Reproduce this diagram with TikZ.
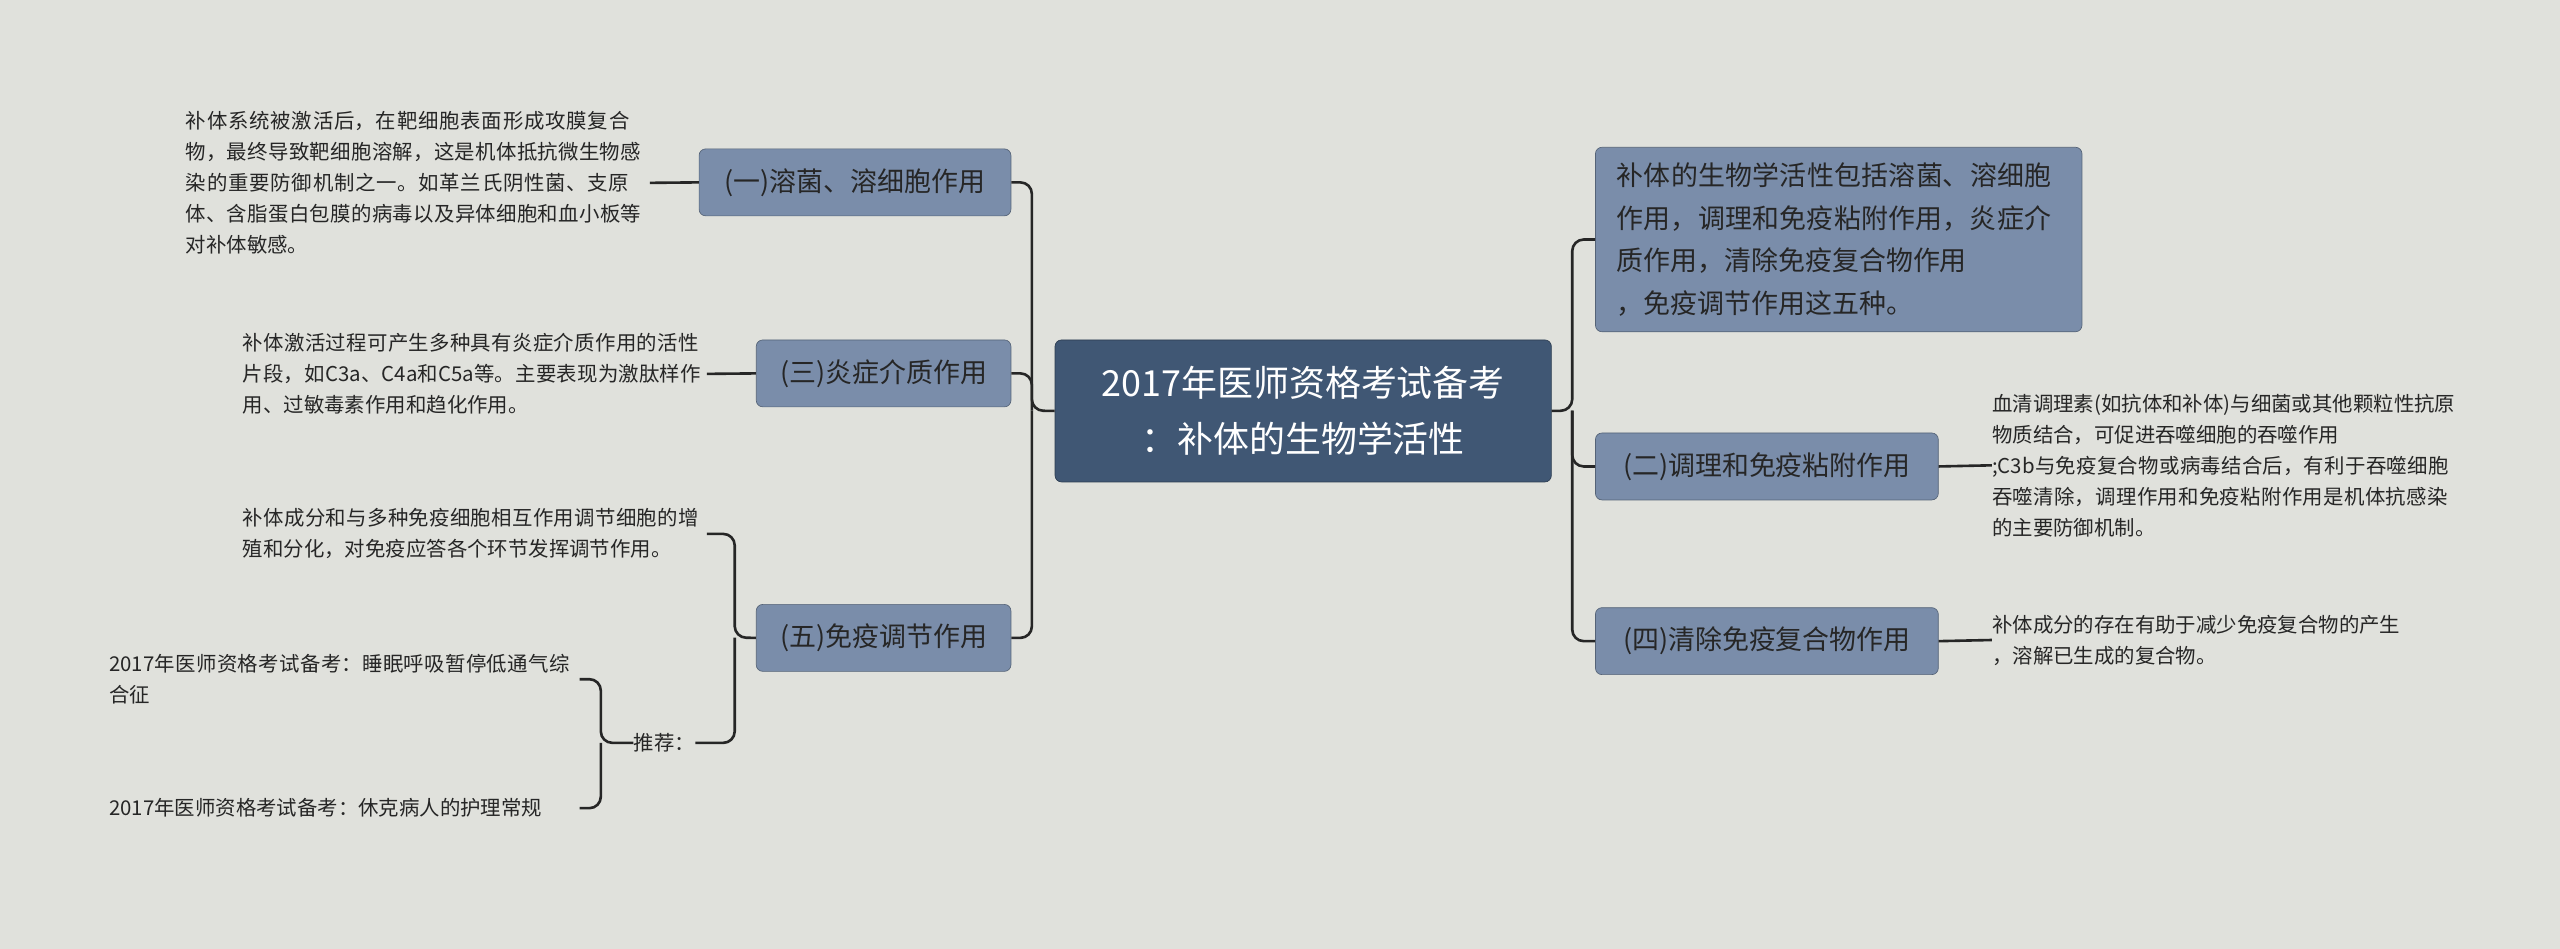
\documentclass[tikz,border=0pt]{standalone}
\usepackage{fontspec}
\setmainfont{Noto Sans CJK SC}
\XeTeXlinebreaklocale "zh"
\XeTeXlinebreakskip=0pt plus 1pt
\begin{document}
\begin{tikzpicture}[x=1pt,y=-1pt,
 box/.style={draw=black!30!bluebox,fill=bluebox,rounded corners=4pt,inner sep=0pt,font=\fontsize{16.5}{26}\selectfont,text=black!85,anchor=north west},
 desc/.style={font=\fontsize{12.5}{19}\selectfont,text=black!85,align=left,inner sep=0pt},
 ln/.style={draw=black!85,line width=1.6pt,rounded corners=7pt}]
\definecolor{bluebox}{HTML}{7A8DAA}
\definecolor{bg}{HTML}{E0E1DC}
\definecolor{center}{HTML}{405774}
\fill[bg] (0,0) rectangle (1568,581);
\useasboundingbox (0,0) rectangle (1568,581);
\node[fill=center,draw=center!70!black,rounded corners=4pt,minimum width=304pt,minimum height=87pt,anchor=north west,text=white,align=center,font=\fontsize{22}{34}\selectfont,inner sep=0pt] (c) at (646,208) {2017年医师资格考试备考\\：补体的生物学活性};
\node[box,minimum width=298pt,minimum height=113pt,text width=272pt,align=left] (r0) at (977,90) {补体的生物学活性包括溶菌、溶细胞作用，调理和免疫粘附作用，炎症介质作用，清除免疫复合物作用\\，免疫调节作用这五种。};
\node[box,minimum width=210pt,minimum height=41pt] (r2) at (977,265) {(二)调理和免疫粘附作用};
\node[box,minimum width=210pt,minimum height=41pt] (r4) at (977,372) {(四)清除免疫复合物作用};
\node[box,minimum width=191pt,minimum height=41pt] (l1) at (428,91) {(一)溶菌、溶细胞作用};
\node[box,minimum width=156pt,minimum height=41pt] (l3) at (463,208) {(三)炎症介质作用};
\node[box,minimum width=156pt,minimum height=41pt] (l5) at (463,370) {(五)免疫调节作用};
\node[desc,anchor=west,text width=284pt] (t2) at (1220,285) {血清调理素(如抗体和补体)与细菌或其他颗粒性抗原物质结合，可促进吞噬细胞的吞噬作用\\;C3b与免疫复合物或病毒结合后，有利于吞噬细胞吞噬清除，调理作用和免疫粘附作用是机体抗感染的主要防御机制。};
\node[desc,anchor=west,text width=284pt] (t4) at (1220,392) {补体成分的存在有助于减少免疫复合物的产生\\，溶解已生成的复合物。};
\node[desc,anchor=east,text width=284pt] (t1) at (398,112) {补体系统被激活后，在靶细胞表面形成攻膜复合物，最终导致靶细胞溶解，这是机体抵抗微生物感染的重要防御机制之一。如革兰氏阴性菌、支原体、含脂蛋白包膜的病毒以及异体细胞和血小板等对补体敏感。};
\node[desc,anchor=east,text width=284pt] (t3) at (433,229) {补体激活过程可产生多种具有炎症介质作用的活性片段，如C3a、C4a和C5a等。主要表现为激肽样作用、过敏毒素作用和趋化作用。};
\node[desc,anchor=east,text width=284pt] (t5) at (433,327) {补体成分和与多种免疫细胞相互作用调节细胞的增殖和分化，对免疫应答各个环节发挥调节作用。};
\node[desc,anchor=west] (tj) at (388,455) {推荐：};
\node[desc,anchor=east,text width=288pt] (ta) at (355,416) {2017年医师资格考试备考：睡眠呼吸暂停低通气综合征};
\node[desc,anchor=east,text width=288pt] (tb) at (355,495) {2017年医师资格考试备考：休克病人的护理常规};
\draw[ln] (c.west) -- (632,251.5) |- (l1.east);
\draw[ln] (632,251.5) |- (l3.east);
\draw[ln] (632,251.5) |- (l5.east);
\draw[ln] (c.east) -- (963,251.5) |- (r0.west);
\draw[ln] (963,251.5) |- (r2.west);
\draw[ln] (963,251.5) |- (r4.west);
\draw[ln] (r2.east) -- (t2.west);
\draw[ln] (r4.east) -- (t4.west);
\draw[ln] (l1.west) -- (t1.east);
\draw[ln] (l3.west) -- (t3.east);
\draw[ln] (l5.west) -- (450,390.5) |- (t5.east);
\draw[ln] (450,390.5) |- (tj.east);
\draw[ln] (tj.west) -- (368,455) |- (ta.east);
\draw[ln] (368,455) |- (tb.east);
\end{tikzpicture}
\end{document}
